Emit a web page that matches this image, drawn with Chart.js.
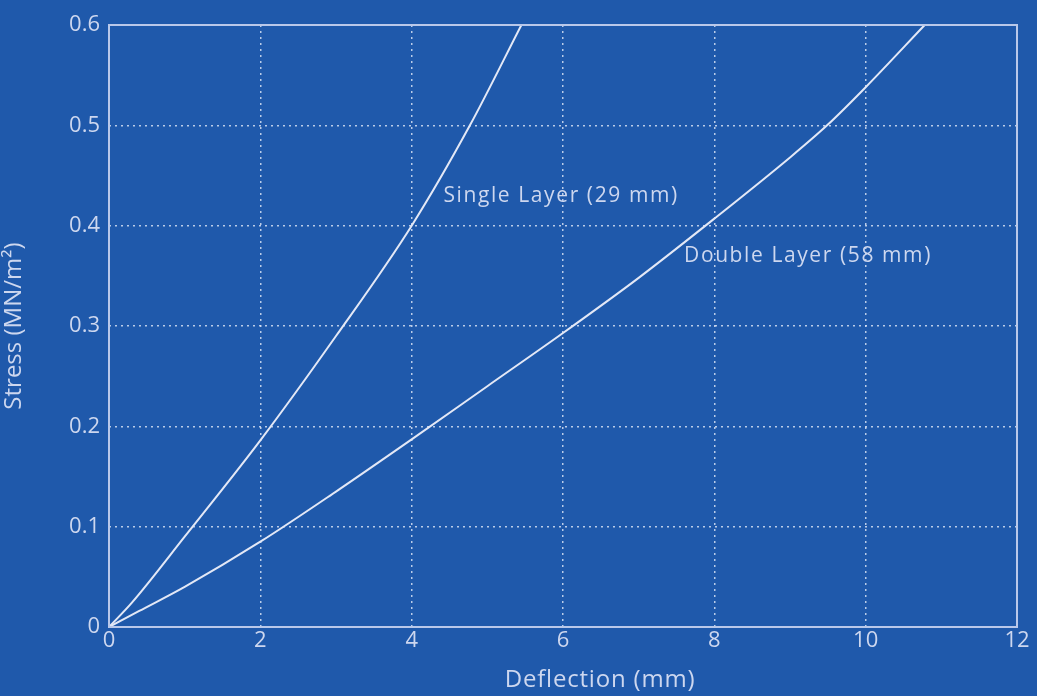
<!DOCTYPE html>
<html>
<head>
<meta charset="utf-8">
<script src="https://cdn.jsdelivr.net/npm/chart.js@4/dist/chart.umd.min.js"></script>
<style>
  html, body { margin: 0; padding: 0; background: #1f59ab; }
  #wrap { width: 1037px; height: 696px; position: relative; }
</style>
</head>
<body>
<div id="wrap"><canvas id="c"></canvas></div>
<script>
// values
const singleX = [0, 0.3, 1, 2, 3, 4, 4.77, 5.45];
const singleY = [0, 0.024, 0.09, 0.186, 0.29, 0.4, 0.5, 0.6];
const doubleX = [0, 0.4, 1, 2, 3, 4, 5, 6, 7, 8, 9, 9.49, 10, 10.78];
const doubleY = [0, 0.016, 0.04, 0.085, 0.135, 0.187, 0.24, 0.293, 0.348, 0.407, 0.468, 0.5, 0.538, 0.6];
const xTicks = [0, 2, 4, 6, 8, 10, 12];
const yTicks = [0, 0.1, 0.2, 0.3, 0.4, 0.5, 0.6];
const labels = [
  { text: "Single Layer (29 mm)", x: 4.42, y: 0.43 },
  { text: "Double Layer (58 mm)", x: 7.6, y: 0.37 }
];
const xTitle = "Deflection (mm)";

const ink = "#cdd7ef";
const lineCol = "#e3e8f6";
const font = "'Open Sans', 'Noto Sans', sans-serif";

const toPts = (xs, ys) => xs.map((x, i) => ({ x, y: ys[i] }));

const frame = {
  id: "frame",
  afterDatasetsDraw(chart) {
    const { ctx, chartArea: a, scales } = chart;
    ctx.save();
    ctx.strokeStyle = "#b9c8ea";
    ctx.lineWidth = 2;
    ctx.strokeRect(a.left, a.top, a.right - a.left, a.bottom - a.top);
    ctx.fillStyle = ink;
    ctx.font = "21px " + font;
    ctx.letterSpacing = "1.6px";
    ctx.textBaseline = "middle";
    labels.forEach(l => {
      ctx.fillText(l.text, scales.x.getPixelForValue(l.x), scales.y.getPixelForValue(l.y));
    });
    // x title sits a bit right of centre in the original
    ctx.font = "24px " + font;
    ctx.letterSpacing = "0.8px";
    ctx.textAlign = "center";
    ctx.fillText(xTitle, 600, a.bottom + 53);
    ctx.restore();
  }
};

new Chart(document.getElementById("c"), {
  type: "scatter",
  data: {
    datasets: [
      { label: "Single Layer (29 mm)", data: toPts(singleX, singleY) },
      { label: "Double Layer (58 mm)", data: toPts(doubleX, doubleY) }
    ]
  },
  options: {
    responsive: true,
    maintainAspectRatio: false,
    animation: false,
    showLine: true,
    layout: { padding: { top: 25, right: 20, left: 0, bottom: 0 } },
    elements: {
      point: { radius: 0 },
      line: { borderColor: lineCol, borderWidth: 2, cubicInterpolationMode: "monotone", fill: false }
    },
    plugins: { legend: { display: false }, tooltip: { enabled: false } },
    scales: {
      x: {
        type: "linear", min: 0, max: 12,
        afterBuildTicks: s => { s.ticks = xTicks.map(v => ({ value: v })); },
        afterFit: s => { s.height = 69; },
        border: { display: false, dash: [2, 4] },
        grid: { color: "rgba(225,232,248,0.8)", lineWidth: 1.5, tickLength: 0 },
        ticks: { color: ink, font: { size: 22, family: font }, padding: 1, maxRotation: 0 },
        title: { display: false }
      },
      y: {
        type: "linear", min: 0, max: 0.6,
        afterBuildTicks: s => { s.ticks = yTicks.map(v => ({ value: v })); },
        afterFit: s => { s.width = 109; },
        border: { display: false, dash: [2, 4] },
        grid: { color: "rgba(225,232,248,0.8)", lineWidth: 1.5, tickLength: 0 },
        ticks: { color: ink, font: { size: 22, family: font }, padding: 9, callback: v => String(v) },
        title: { display: true, text: "Stress (MN/m²)", color: ink, font: { size: 24, family: font }, padding: { top: 0, bottom: 6 } }
      }
    }
  },
  plugins: [frame]
});
</script>
</body>
</html>
